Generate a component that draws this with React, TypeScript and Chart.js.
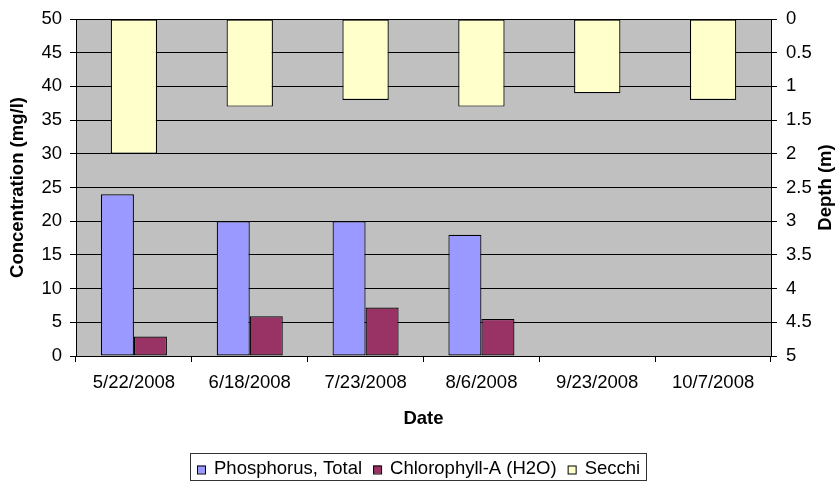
import React, { useEffect, useRef } from 'react';
import { Chart, registerables } from 'chart.js';
Chart.register(...registerables);

const FONT = "'Liberation Sans', Arial, sans-serif";

const dates = ['5/22/2008', '6/18/2008', '7/23/2008', '8/6/2008', '9/23/2008', '10/7/2008'];
const phosphorus = [24, 20, 20, 18, null, null];
const chlorophyll = [2.9, 5.9, 7.2, 5.5, null, null];
const secchi = [2.0, 1.3, 1.2, 1.3, 1.1, 1.2];
const seriesNames = ['Phosphorus, Total', 'Chlorophyll-A (H2O)', 'Secchi'];
const seriesColors = ['#9999FF', '#993366', '#FFFFCC'];

const bgPlugin = {
  id: 'plotBg',
  beforeDraw(chart: any) {
    const { ctx, chartArea: a } = chart;
    ctx.save();
    ctx.fillStyle = '#C0C0C0';
    ctx.fillRect(a.left, a.top, a.right - a.left, a.bottom - a.top);
    ctx.restore();
  },
};

const decoPlugin = {
  id: 'deco',
  afterDraw(chart: any) {
    const { ctx, chartArea: a } = chart;
    ctx.save();
    ctx.fillStyle = '#000';
    ctx.font = `bold 18.5px ${FONT}`;
    ctx.textAlign = 'center';
    ctx.textBaseline = 'middle';
    const midY = (a.top + a.bottom) / 2;
    ctx.save();
    ctx.translate(18, midY);
    ctx.rotate(-Math.PI / 2);
    ctx.fillText('Concentration (mg/l)', 0, 0);
    ctx.restore();
    ctx.save();
    ctx.translate(826, midY);
    ctx.rotate(-Math.PI / 2);
    ctx.fillText('Depth (m)', 0, 0);
    ctx.restore();
    ctx.fillText('Date', (a.left + a.right) / 2, 419);

    // legend
    ctx.font = `18.5px ${FONT}`;
    ctx.textAlign = 'left';
    const ds = chart.data.datasets;
    let x = 197;
    const cy = 468.5;
    ctx.lineWidth = 1;
    ctx.strokeStyle = '#000';
    ds.forEach((d: any, i: number) => {
      ctx.fillStyle = d.backgroundColor;
      ctx.fillRect(x, cy - 3, 8, 8);
      ctx.strokeRect(x + 0.5, cy - 2.5, 8, 8);
      ctx.fillStyle = '#000';
      ctx.fillText(d.label, x + 17, cy);
      const w = ctx.measureText(d.label).width;
      x = x + 17 + w + (i < ds.length - 1 ? 11 : 6);
    });
    ctx.strokeStyle = '#333';
    ctx.strokeRect(190.5, 453.5, Math.round(x - 190), 27);
    ctx.restore();
  },
};

export default function App() {
  const ref = useRef<HTMLCanvasElement>(null);
  useEffect(() => {
    document.body.style.margin = '0';
    const chart = new Chart(ref.current as HTMLCanvasElement, {
      type: 'bar',
      data: {
        labels: dates,
        datasets: [
          {
            label: seriesNames[0],
            data: phosphorus,
            backgroundColor: seriesColors[0],
            borderColor: '#000',
            borderWidth: 1.2,
            borderSkipped: false,
            yAxisID: 'y',
            categoryPercentage: 0.57,
            barPercentage: 1,
            grouped: true,
          },
          {
            label: seriesNames[1],
            data: chlorophyll,
            backgroundColor: seriesColors[1],
            borderColor: '#000',
            borderWidth: 1.2,
            borderSkipped: false,
            yAxisID: 'y',
            categoryPercentage: 0.57,
            barPercentage: 1,
            grouped: true,
          },
          {
            label: seriesNames[2],
            data: secchi,
            backgroundColor: seriesColors[2],
            borderColor: '#000',
            borderWidth: 1.2,
            borderSkipped: false,
            yAxisID: 'y1',
            categoryPercentage: 0.4,
            barPercentage: 1,
            grouped: false,
          },
        ] as any,
      },
      options: {
        animation: false,
        responsive: true,
        maintainAspectRatio: false,
        layout: { padding: { top: 19, left: 0, right: 0, bottom: 0 } },
        plugins: { legend: { display: false }, tooltip: { enabled: false } },
        scales: {
          x: {
            type: 'category',
            position: 'bottom',
            offset: true,
            grid: { drawOnChartArea: false, drawTicks: true, tickLength: 6, color: '#000', offset: true },
            border: { display: true, color: '#000' },
            ticks: { color: '#000', font: { family: FONT, size: 18.5 }, padding: 10, maxRotation: 0, autoSkip: false },
            afterFit: (s: any) => {
              s.height = 126;
              s.paddingLeft = 0;
              s.paddingRight = 0;
            },
          },
          y: {
            position: 'left',
            min: 0,
            max: 50,
            ticks: { stepSize: 5, color: '#000', font: { family: FONT, size: 18.5 }, padding: 8 },
            grid: { color: '#000', lineWidth: 1, drawTicks: true, tickLength: 6 },
            border: { display: true, color: '#000' },
            afterFit: (s: any) => {
              s.width = 76;
              s.paddingTop = 0;
              s.paddingBottom = 0;
            },
          },
          y1: {
            position: 'right',
            min: 0,
            max: 5,
            reverse: true,
            ticks: {
              stepSize: 0.5,
              color: '#000',
              font: { family: FONT, size: 18.5 },
              padding: 9,
              callback: (v: any) => String(Math.round(Number(v) * 10) / 10),
            },
            grid: { drawOnChartArea: false, color: '#000', drawTicks: true, tickLength: 6 },
            border: { display: true, color: '#000' },
            afterFit: (s: any) => {
              s.width = 69;
              s.paddingTop = 0;
              s.paddingBottom = 0;
            },
          },
        } as any,
      },
      plugins: [bgPlugin, decoPlugin],
    });
    return () => chart.destroy();
  }, []);
  return (
    <div style={{ width: 840, height: 482, position: 'relative' }}>
      <canvas ref={ref} />
    </div>
  );
}
